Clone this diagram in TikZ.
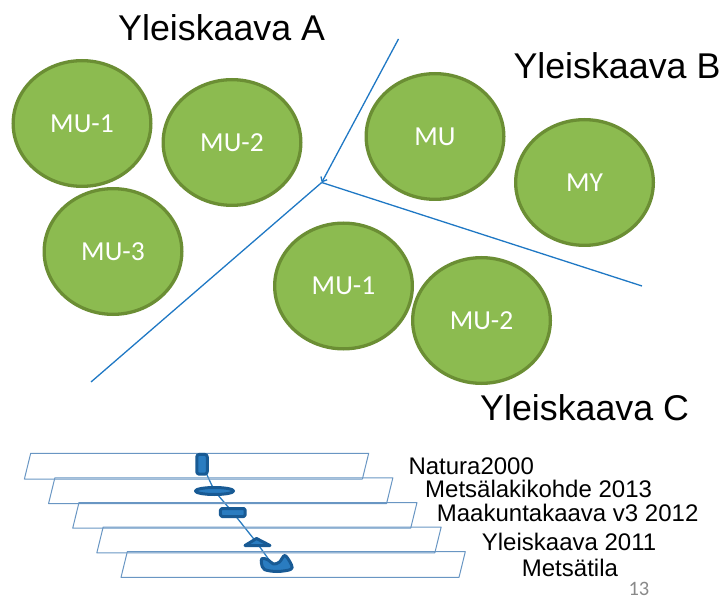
\documentclass[tikz,border=0pt]{standalone}
\usepackage{fontspec}
\setmainfont{Liberation Sans}
\newfontfamily\calfont{Carlito}
\usetikzlibrary{shapes.geometric,arrows.meta,backgrounds}
\definecolor{ellfill}{RGB}{140,187,80}
\definecolor{elldraw}{RGB}{107,142,52}
\definecolor{linblue}{RGB}{31,120,196}
\definecolor{planeblue}{RGB}{105,150,195}
\definecolor{symfill}{RGB}{42,124,192}
\definecolor{symdraw}{RGB}{24,90,148}
\definecolor{pagegray}{RGB}{137,137,137}
\tikzset{
  zone/.style={ellipse, draw=elldraw, fill=ellfill, line width=3.3pt,
    minimum width=137.7pt, minimum height=125.7pt, inner sep=0pt,
    text=white, font=\calfont\fontsize{27.5}{30}\selectfont},
  title/.style={anchor=base west, inner sep=0pt, font=\fontsize{35.8}{40}\selectfont},
  layerlabel/.style={anchor=base west, inner sep=0pt, font=\fontsize{24}{26}\selectfont},
  boundary/.style={draw=linblue, line width=1.3pt},
  plane/.style={draw=planeblue, line width=1pt, line join=round},
  sym/.style={draw=symdraw, fill=symfill, line width=3pt, line join=round, inner sep=0pt},
  link/.style={draw=symfill, line width=1.3pt}
}
\begin{document}
\begin{tikzpicture}[x=1pt,y=-1pt]
\useasboundingbox (0,0) rectangle (725,601);

% titles
\node[title] (ta) at (118,41) {Yleiskaava A};
\node[title] (tb) at (513.3,79) {Yleiskaava B};
\node[title] (tc) at (480,420) {Yleiskaava C};

% zones
\node[zone] (a1) at (82,123.5) {MU-1};
\node[zone] (a2) at (232,142.5) {MU-2};
\node[zone] (a3) at (113,251.5) {MU-3};
\node[zone] (b1) at (435,136.5) {MU};
\node[zone] (b2) at (584.5,182.5) {MY};
\node[zone] (c1) at (343.5,286) {MU-1};
\node[zone] (c2) at (481.5,320.5) {MU-2};

% boundaries
\coordinate (jn) at (321.7,182.5);
\coordinate (la) at (398.5,39);
\coordinate (lb) at (91,382);
\coordinate (lc) at (642,286);
\draw[boundary, -{Straight Barb[length=4pt,width=7pt]}] (la) -- (jn);
\draw[boundary] (jn) -- (lb);
\draw[boundary] (jn) -- (lc);

% layer planes
\foreach \i in {0,...,4}{
  \pgfmathsetmacro{\xo}{30.7+24.15*\i}
  \pgfmathsetmacro{\yo}{453.3+24.6*\i}
  \draw[plane] (\xo,\yo) -- ++(338,0) -- ++(-6.3,25.7) -- ++(-338,0) -- cycle;
}

% symbols
\node[sym, rectangle, rounded corners=2.5pt, minimum width=10.5pt, minimum height=19.8pt] (r1) at (202,464.3) {};
\node[sym, ellipse, minimum width=38pt, minimum height=7pt] (e1) at (214.5,491) {};
\node[sym, rectangle, rounded corners=1.5pt, minimum width=24.7pt, minimum height=8pt] (r2) at (232.8,512.5) {};
\draw[sym] (245,545.5) -- (256.5,538.5) -- (270,545.5) -- cycle;
\coordinate (tri) at (257,543);
\draw[sym] plot[smooth cycle, tension=0.55] coordinates {
  (262,558.5) (268,559.8) (273.5,564) (279.5,562) (285,555.5)
  (291.5,565) (290.5,569.5) (277,571.5) (264.5,569.5) (261.5,563.5)};
\coordinate (blob) at (272,564);

\begin{scope}[on background layer]
\draw[link] (r1.center) -- (e1.center) -- (r2.center) -- (tri) -- (blob);
\end{scope}

% labels
\node[layerlabel] (l1) at (408.3,474.3) {Natura2000};
\node[layerlabel] (l2) at (425,497.3) {Metsälakikohde 2013};
\node[layerlabel] (l3) at (436.7,521.7) {Maakuntakaava v3 2012};
\node[layerlabel] (l4) at (481.7,550) {Yleiskaava 2011};
\node[layerlabel] (l5) at (521.7,576.7) {Metsätila};

\node[anchor=base west, inner sep=0pt, text=pagegray, font=\calfont\fontsize{20.5}{23}\selectfont] (pg) at (628.3,595.5) {13};
\end{tikzpicture}
\end{document}
